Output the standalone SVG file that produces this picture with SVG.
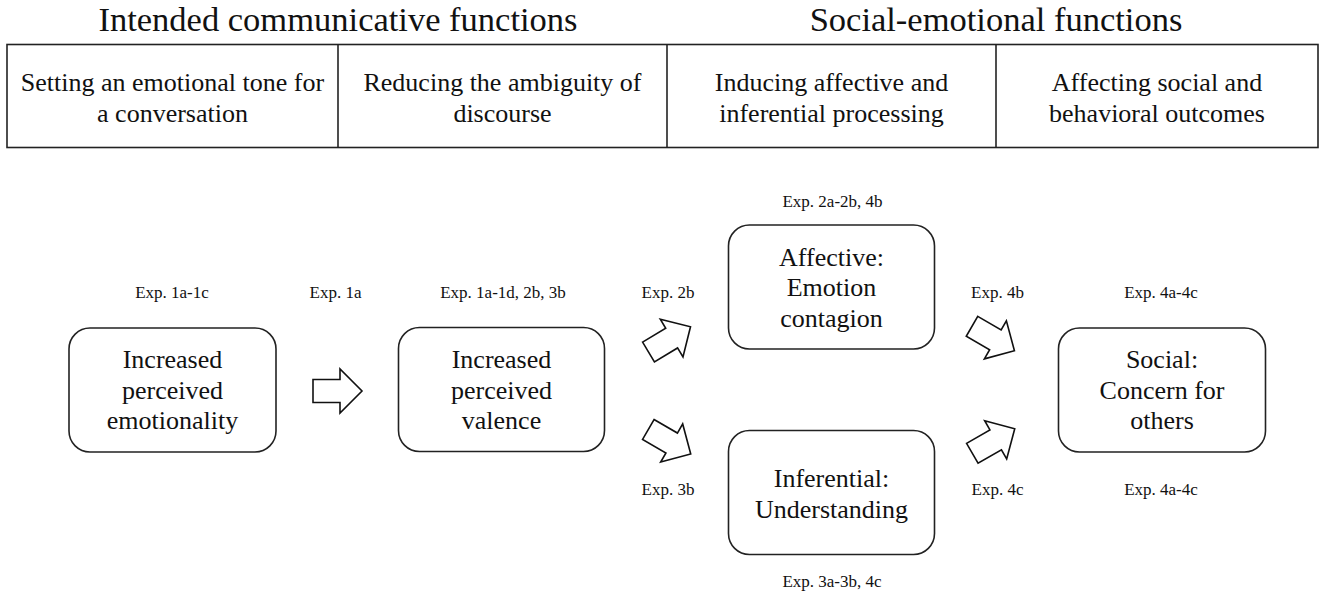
<svg xmlns="http://www.w3.org/2000/svg" xmlns:xlink="http://www.w3.org/1999/xlink" width="1326" height="592" viewBox="0 0 1326 592" font-family="'Liberation Serif', 'DejaVu Serif', serif">
  <style>
    text { font-family: 'Liberation Serif', 'Times New Roman', 'DejaVu Serif', serif; fill: #111; text-anchor: middle; }
    .title { font-size: 34.5px; }
    .cell { font-size: 26px; }
    .node { font-size: 26px; }
    .exp { font-size: 17px; }
    .box { fill: #fff; stroke: #222; stroke-width: 1.6; }
    .tbl { fill: none; stroke: #222; stroke-width: 1.6; }
    .arr { fill: #fff; stroke: #111; stroke-width: 1.6; stroke-linejoin: miter; }
  </style>
  <defs>
    <path id="barrow" d="M0,-11.5 L27,-11.5 L27,-22 L49,0 L27,22 L27,11.5 L0,11.5 Z"/>
  </defs>
  <rect width="1326" height="592" fill="#fff"/>

  <g id="header">
    <text class="title" x="338" y="31">Intended communicative functions</text>
    <text class="title" x="996" y="31">Social-emotional functions</text>
    <rect class="tbl" x="7" y="44.5" width="1311" height="103"/>
    <line class="tbl" x1="338" y1="44.5" x2="338" y2="147.5"/>
    <line class="tbl" x1="667" y1="44.5" x2="667" y2="147.5"/>
    <line class="tbl" x1="996" y1="44.5" x2="996" y2="147.5"/>
  </g>
  <g id="cell1">
    <text class="cell" x="172.5" y="91">Setting an emotional tone for</text>
    <text class="cell" x="172.5" y="121.5">a conversation</text>
  </g>
  <g id="cell2">
    <text class="cell" x="502.5" y="91">Reducing the ambiguity of</text>
    <text class="cell" x="502.5" y="121.5">discourse</text>
  </g>
  <g id="cell3">
    <text class="cell" x="831.5" y="91">Inducing affective and</text>
    <text class="cell" x="831.5" y="121.5">inferential processing</text>
  </g>
  <g id="cell4">
    <text class="cell" x="1157" y="91">Affecting social and</text>
    <text class="cell" x="1157" y="121.5">behavioral outcomes</text>
  </g>

  <g id="connectors">
    <use xlink:href="#barrow" class="arr" transform="translate(313,391)"/>
    <use xlink:href="#barrow" class="arr" transform="translate(648.5,352) rotate(-31)"/>
    <use xlink:href="#barrow" class="arr" transform="translate(648.3,429.5) rotate(30)"/>
    <use xlink:href="#barrow" class="arr" transform="translate(972,326.3) rotate(30)"/>
    <use xlink:href="#barrow" class="arr" transform="translate(972.3,453.3) rotate(-30)"/>
    <text class="exp" x="335.5" y="298">Exp. 1a</text>
    <text class="exp" x="668" y="298">Exp. 2b</text>
    <text class="exp" x="668" y="495">Exp. 3b</text>
    <text class="exp" x="997.5" y="298">Exp. 4b</text>
    <text class="exp" x="997.5" y="495">Exp. 4c</text>
  </g>

  <g id="node-emotionality">
    <text class="exp" x="172" y="298">Exp. 1a-1c</text>
    <rect class="box" x="69" y="328" width="207" height="124" rx="21"/>
    <text class="node" x="172.5" y="368">Increased</text>
    <text class="node" x="172.5" y="398.5">perceived</text>
    <text class="node" x="172.5" y="429">emotionality</text>
  </g>
  <g id="node-valence">
    <text class="exp" x="503" y="298">Exp. 1a-1d, 2b, 3b</text>
    <rect class="box" x="398.5" y="327.5" width="206" height="124" rx="21"/>
    <text class="node" x="501.5" y="368">Increased</text>
    <text class="node" x="501.5" y="398.5">perceived</text>
    <text class="node" x="501.5" y="429">valence</text>
  </g>
  <g id="node-affective">
    <text class="exp" x="832.5" y="207">Exp. 2a-2b, 4b</text>
    <rect class="box" x="728.5" y="225" width="206" height="124" rx="21"/>
    <text class="node" x="831.5" y="265.5">Affective:</text>
    <text class="node" x="831.5" y="296">Emotion</text>
    <text class="node" x="831.5" y="326.5">contagion</text>
  </g>
  <g id="node-inferential">
    <rect class="box" x="728.5" y="430.5" width="206" height="124" rx="21"/>
    <text class="node" x="831.5" y="486.5">Inferential:</text>
    <text class="node" x="831.5" y="518">Understanding</text>
    <text class="exp" x="832" y="587">Exp. 3a-3b, 4c</text>
  </g>
  <g id="node-social">
    <text class="exp" x="1161" y="298">Exp. 4a-4c</text>
    <rect class="box" x="1058.5" y="328" width="207" height="124" rx="21"/>
    <text class="node" x="1162" y="368">Social:</text>
    <text class="node" x="1162" y="398.5">Concern for</text>
    <text class="node" x="1162" y="429">others</text>
    <text class="exp" x="1161" y="495">Exp. 4a-4c</text>
  </g>
</svg>
